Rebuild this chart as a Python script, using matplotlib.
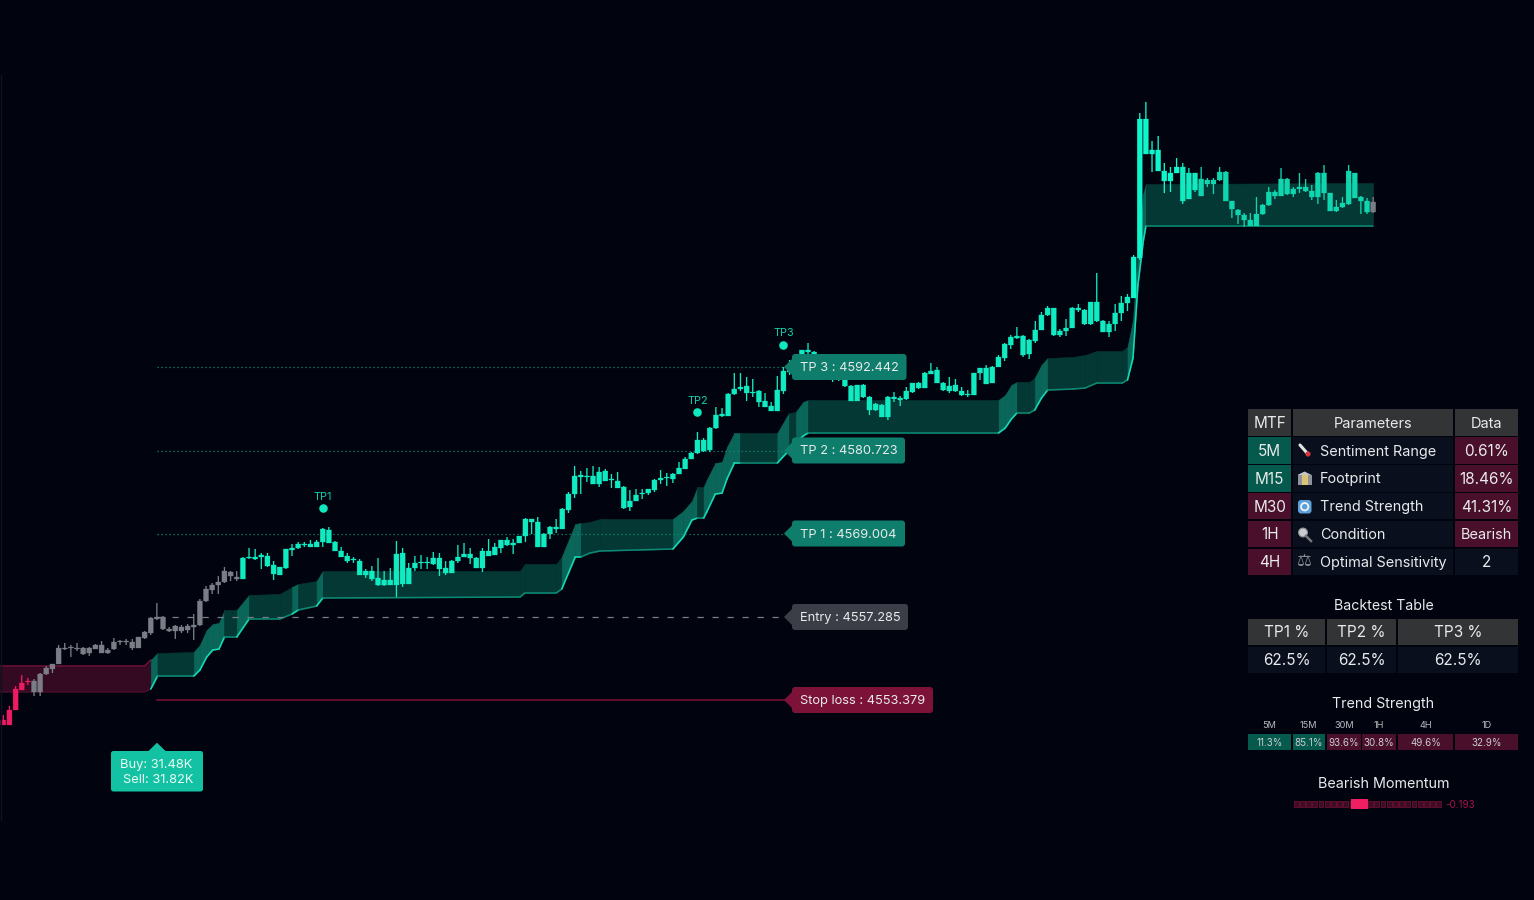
"""Recreate the trend band chart with TP levels and the signal tables."""
import matplotlib
matplotlib.use('Agg')
import matplotlib.pyplot as plt
from matplotlib.patches import Rectangle, FancyBboxPatch, Polygon, Circle

plt.rcParams['font.family'] = ['Inter', 'DejaVu Sans']

# candle series, in ticks above the chart floor
body_top = [
    180, 190, 211, 217, 219, 219, 226, 232, 236, 252,
    252, 253, 252, 252, 252, 255, 255, 250, 258, 259,
    259, 258, 263, 268, 282, 283, 283, 271, 274, 273,
    274, 275, 299, 311, 315, 318, 329, 328, 323, 342,
    343, 343, 345, 344, 335, 333, 351, 352, 356, 356,
    356, 358, 371, 370, 358, 349, 344, 341, 339, 329,
    329, 322, 320, 320, 346, 347, 332, 337, 338, 338,
    342, 342, 332, 339, 343, 346, 346, 342, 349, 349,
    353, 360, 360, 357, 364, 381, 381, 378, 366, 373,
    373, 391, 406, 424, 425, 424, 424, 428, 429, 421,
    419, 413, 399, 405, 407, 411, 420, 422, 423, 426,
    432, 441, 447, 460, 460, 472, 485, 486, 506, 511,
    513, 514, 508, 509, 499, 494, 510, 529, 535, 542,
    550, 550, 548, 544, 540, 534, 530, 522, 514, 515,
    515, 503, 496, 495, 503, 503, 502, 509, 517, 517,
    527, 529, 530, 517, 514, 515, 509, 506, 527, 532,
    532, 533, 543, 556, 563, 564, 564, 560, 570, 585,
    592, 592, 569, 572, 592, 592, 590, 598, 598, 579,
    576, 587, 597, 603, 643, 781, 781, 750, 750, 729,
    727, 733, 733, 727, 727, 721, 720, 720, 728, 728,
    699, 690, 685, 680, 686, 695, 708, 708, 721, 721,
    711, 713, 713, 709, 727, 727, 707, 693, 697, 729,
    727, 703, 699, 698,
]
body_bot = [
    175, 175, 190, 210, 218, 208, 208, 226, 231, 236,
    251, 252, 251, 246, 247, 251, 247, 247, 251, 258,
    258, 252, 252, 262, 267, 281, 271, 269, 269, 269,
    270, 273, 275, 299, 310, 315, 318, 324, 321, 321,
    342, 341, 343, 334, 326, 325, 332, 350, 352, 355,
    353, 353, 358, 357, 349, 343, 339, 340, 325, 325,
    321, 315, 315, 315, 315, 316, 316, 332, 337, 337,
    336, 331, 327, 327, 339, 343, 342, 332, 332, 344,
    345, 352, 355, 355, 357, 364, 378, 353, 353, 366,
    371, 371, 390, 406, 423, 423, 416, 416, 419, 420,
    412, 392, 393, 399, 406, 407, 410, 420, 422, 421,
    426, 431, 441, 447, 449, 450, 472, 484, 484, 506,
    511, 507, 507, 498, 493, 489, 489, 509, 528, 534,
    542, 548, 540, 536, 532, 526, 522, 514, 499, 499,
    503, 490, 490, 483, 483, 501, 500, 501, 508, 512,
    512, 526, 517, 510, 509, 509, 505, 505, 505, 527,
    516, 517, 533, 542, 555, 562, 545, 546, 559, 570,
    585, 565, 565, 569, 572, 590, 576, 576, 579, 568,
    568, 576, 587, 597, 602, 642, 746, 746, 729, 719,
    719, 727, 699, 701, 710, 704, 716, 716, 720, 699,
    691, 685, 680, 674, 674, 686, 695, 704, 704, 706,
    706, 711, 709, 703, 703, 707, 689, 689, 693, 696,
    702, 699, 688, 688,
]
wick_high = [
    185, 194, 214, 225, 222, 221, 227, 234, 236, 255,
    257, 255, 257, 253, 253, 256, 259, 252, 262, 260,
    261, 261, 263, 269, 283, 297, 284, 273, 275, 275,
    276, 286, 301, 314, 317, 324, 333, 329, 329, 343,
    352, 351, 347, 347, 339, 333, 351, 356, 358, 358,
    360, 360, 372, 373, 359, 353, 347, 343, 341, 331,
    334, 342, 329, 332, 359, 352, 337, 344, 345, 343,
    348, 347, 339, 340, 355, 357, 352, 343, 352, 361,
    357, 360, 363, 361, 364, 382, 381, 383, 367, 374,
    381, 392, 408, 434, 429, 432, 434, 433, 431, 426,
    428, 414, 410, 411, 411, 411, 421, 430, 427, 427,
    438, 443, 448, 468, 462, 473, 493, 492, 507, 527,
    527, 523, 521, 510, 507, 498, 524, 533, 540, 545,
    550, 557, 549, 546, 542, 538, 532, 524, 515, 515,
    516, 504, 497, 496, 504, 508, 504, 513, 517, 518,
    528, 537, 533, 518, 523, 521, 513, 510, 527, 532,
    535, 534, 545, 557, 565, 573, 565, 561, 579, 588,
    594, 592, 571, 581, 593, 596, 591, 598, 627, 580,
    579, 596, 604, 606, 645, 787, 798, 759, 764, 737,
    733, 742, 737, 732, 727, 733, 722, 722, 733, 729,
    699, 691, 687, 687, 703, 696, 713, 710, 732, 722,
    713, 727, 721, 715, 728, 735, 707, 700, 703, 735,
    727, 704, 702, 703,
]
wick_low = [
    175, 175, 190, 210, 215, 204, 204, 225, 227, 236,
    250, 243, 249, 245, 244, 251, 247, 246, 250, 255,
    255, 250, 252, 261, 265, 280, 270, 268, 261, 267,
    267, 260, 274, 298, 306, 306, 317, 319, 319, 321,
    341, 340, 331, 333, 320, 325, 331, 344, 351, 353,
    353, 353, 353, 357, 349, 343, 337, 337, 325, 322,
    319, 314, 314, 315, 303, 313, 316, 329, 331, 331,
    335, 324, 325, 327, 337, 343, 336, 332, 328, 344,
    345, 347, 354, 346, 357, 358, 366, 353, 353, 361,
    367, 371, 387, 402, 406, 418, 416, 413, 419, 412,
    412, 391, 389, 399, 401, 405, 408, 416, 414, 417,
    426, 431, 441, 446, 448, 448, 471, 483, 484, 505,
    509, 499, 503, 493, 493, 489, 489, 506, 525, 530,
    540, 545, 538, 534, 528, 518, 519, 513, 499, 499,
    502, 485, 489, 483, 480, 498, 494, 500, 507, 511,
    512, 526, 517, 509, 507, 508, 504, 503, 505, 520,
    516, 517, 533, 539, 551, 561, 543, 541, 557, 570,
    584, 564, 563, 564, 572, 588, 575, 575, 578, 568,
    563, 569, 579, 589, 602, 640, 746, 728, 729, 707,
    708, 727, 696, 701, 708, 704, 713, 706, 719, 699,
    682, 676, 673, 674, 674, 685, 694, 701, 704, 705,
    703, 707, 708, 700, 696, 700, 689, 688, 692, 695,
    702, 686, 686, 687,
]

# trend band
band_x = [
    24.0, 25.1, 31.0, 32.0, 33.1, 34.1, 35.1, 36.0, 38.0, 40.0,
    45.0, 47.0, 48.0, 51.0, 52.0, 84.1, 84.9, 90.0, 90.9, 93.1,
    94.0, 95.5, 97.1, 109.0, 110.7, 112.1, 113.0, 114.0, 114.5, 115.9,
    117.0, 117.8, 119.0, 119.9, 126.0, 127.5, 127.9, 129.0, 130.2, 131.0,
    162.0, 163.1, 164.1, 165.0, 167.0, 167.9, 169.0, 170.0, 174.1, 176.1,
    178.0, 182.1, 183.0, 183.9, 184.7, 185.6, 186.0, 223.0,
]
band_top = [
    240, 247, 248, 255, 270, 276, 277, 290, 290, 305,
    306, 313, 316, 319, 329, 329, 336, 336, 343, 376,
    377, 378, 381, 381, 389, 399, 413, 413, 420, 437,
    438, 453, 467, 467, 467, 483, 487, 488, 498, 500,
    500, 505, 515, 518, 518, 522, 535, 542, 543, 545,
    549, 549, 553, 580, 650, 707, 716, 717,
]
band_bot = [
    211, 224, 224, 230, 243, 250, 251, 263, 263, 281,
    281, 286, 290, 294, 302, 303, 307, 307, 311, 343,
    343, 347, 349, 351, 363, 380, 382, 382, 388, 406,
    407, 421, 437, 437, 437, 447, 450, 457, 464, 467,
    467, 472, 481, 487, 487, 490, 502, 510, 511, 512,
    517, 517, 520, 542, 615, 660, 674, 674,
]
band_rising = [
    (24.0, 25.1), (31.0, 36.0), (38.0, 40.0), (47.0, 48.0), (51.0, 52.0),
    (90.9, 94.0), (109.0, 113.0), (114.0, 119.9), (126.0, 127.9), (129.0, 131.0),
    (162.0, 165.0), (167.9, 170.0), (183.0, 186.0),
]
bear_x = [-0.6, 23.0, 24.0]
bear_top = [234, 234, 240]
bear_bot = [208, 208, 211]

# levels
level_names = ['TP 3', 'TP 2', 'TP 1', 'Entry', 'Stop loss']
level_prices = ['4592.442', '4580.723', '4569.004', '4557.285', '4553.379']
level_ticks = [533, 449.5, 366.5, 283, 200]
tp_names = ['TP1', 'TP2', 'TP3']
tp_bars = [52, 113, 127]
tp_ticks = [392, 488, 555]

# tables
mtf_labels = ['5M', 'M15', 'M30', '1H', '4H']
mtf_bull = [True, True, False, False, False]
param_names = ['Sentiment Range', 'Footprint', 'Trend Strength', 'Condition', 'Optimal Sensitivity']
data_values = ['0.61%', '18.46%', '41.31%', 'Bearish', '2']
data_bear = [True, True, True, True, False]
backtest_heads = ['TP1 %', 'TP2 %', 'TP3 %']
backtest_values = ['62.5%', '62.5%', '62.5%']
strength_frames = ['5M', '15M', '30M', '1H', '4H', '1D']
strength_values = ['11.3%', '85.1%', '93.6%', '30.8%', '49.6%', '32.9%']
strength_bull = [True, True, False, False, False, False]
momentum_value = '-0.193'
momentum_cells = 24

BG = '#01040f'
PINK = '#ee1a62'
GRAY = '#7b7d86'
TEAL = '#10ebc2'
TEAL_BRIGHT = '#0ff8cd'
TEAL_DIM = '#10d6b0'
BAND_DARK = '#043835'
BAND_LIGHT = '#0b665a'
GREEN_CELL = '#05594d'
MAROON_CELL = '#4a0f2b'
HEAD_CELL = '#333436'
DARK_CELL = '#0a0f1e'
TEXT = '#e8eaec'

fig = plt.figure(figsize=(15.34, 9.0), dpi=100, facecolor=BG)
ax = fig.add_axes([0, 0, 1, 1], facecolor=BG)
ax.set_xlim(-0.537, 249.18)
ax.set_ylim(0, 900)
ax.axis('off')

# level lines sit above the band, below the candles
for name, tick in zip(level_names, level_ticks):
    if name.startswith('TP'):
        ax.plot([25.1, 127.6], [tick, tick], color='#128a76', lw=0.9, ls=(0, (1, 2.2)), zorder=3.5)
    elif name == 'Entry':
        ax.plot([25.1, 127.6], [tick, tick], color='#7a7c84', lw=0.9, ls=(0, (5, 7)), zorder=3.5)
    else:
        ax.plot([25.1, 127.6], [tick, tick], color='#7d1238', lw=1.1, zorder=3.5)

# bearish band
ax.fill_between(bear_x, bear_bot, bear_top, color='#340a22', lw=0, zorder=2)
ax.plot(bear_x, bear_top, color='#7d1238', lw=1.0, zorder=2)
ax.plot(bear_x, bear_bot, color='#4d0f2d', lw=0.8, zorder=2)


def is_rising(x0, x1):
    mid = (x0 + x1) / 2
    return any(a <= mid <= b for a, b in band_rising)


# trend band, one piece per knot so the rising parts can be lighter
for j in range(len(band_x) - 1):
    xs = band_x[j:j + 2]
    rising = is_rising(*xs)
    col = BAND_LIGHT if rising else BAND_DARK
    ax.fill_between(xs, band_bot[j:j + 2], band_top[j:j + 2], facecolor=col, edgecolor=col, lw=0.4, zorder=2)
    ax.plot(xs, band_bot[j:j + 2], color='#14dcb6' if rising else '#0d8a75',
            lw=1.1, solid_capstyle='round', zorder=3)

# candles, unsnapped so the gaps between neighbours stay even
for i in range(len(body_top)):
    if i < 5:
        c = PINK
    elif i < 39 or i == 223:
        c = GRAY
    elif 184 <= i < 192:
        c = TEAL_BRIGHT
    elif i >= 195:
        c = TEAL_DIM
    else:
        c = TEAL
    ax.vlines(i, wick_low[i], wick_high[i], color=c, lw=0.95, zorder=4, snap=False)
    bars = ax.bar(i, body_top[i] - body_bot[i], bottom=body_bot[i], width=0.82,
                  facecolor=c, edgecolor=c, lw=0.2, zorder=5)
    bars[0].set_snap(False)

# TP markers
ax.scatter(tp_bars, tp_ticks, s=38, color='#10e8c0', lw=0, zorder=6)
for name, bar, tick in zip(tp_names, tp_bars, tp_ticks):
    ax.text(bar, tick + 11.5, name, color='#0fd0ac', fontsize=7.8, ha='center', va='center', zorder=6)

# overlay in picture units for labels and tables
ui = fig.add_axes([0, 0, 1, 1], facecolor='none')
ui.set_xlim(0, 1534)
ui.set_ylim(900, 0)
ui.axis('off')
ui.plot([0.5, 0.5], [75, 820], color='#10131f', lw=1)


def tag(y, x1, text, color, txt_color=TEXT):
    ui.add_patch(FancyBboxPatch((792, y - 13), x1 - 792, 26, boxstyle='round,pad=0,rounding_size=3',
                                fc=color, ec='none', zorder=7))
    ui.add_patch(Polygon([(784, y), (793, y - 9), (793, y + 9)], fc=color, ec='none', zorder=7))
    ui.text(799.5, y + 1, text, color=txt_color, fontsize=9.25, ha='left', va='center', zorder=8)


tag_ends = [906.5, 905, 905, 908, 933]
tag_colors = ['#0e7d6b', '#0e7d6b', '#0e7d6b', '#3b3d47', '#7d1238']
tag_rows = [367, 450.5, 533.5, 617, 700]
for name, price, y, x1, col in zip(level_names, level_prices, tag_rows, tag_ends, tag_colors):
    tag(y, x1, f'{name} : {price}', col)

# buy / sell box
ui.add_patch(FancyBboxPatch((111, 751), 92, 40.5, boxstyle='round,pad=0,rounding_size=2.5',
                            fc='#12c2a2', ec='none', zorder=7))
ui.add_patch(Polygon([(157, 742.7), (148, 751.5), (166, 751.5)], fc='#12c2a2', ec='none', zorder=7))
ui.text(156.5, 765, 'Buy: 31.48K', color='#eafaf6', fontsize=9.3, ha='center', va='center', zorder=8)
ui.text(158, 780, 'Sell: 31.82K', color='#eafaf6', fontsize=9.3, ha='center', va='center', zorder=8)


def cell(x0, x1, y0, y1, color, text='', size=11, tcolor=TEXT):
    ui.add_patch(Rectangle((x0, y0), x1 - x0, y1 - y0, fc=color, ec='none', zorder=2))
    if text:
        ui.text((x0 + x1) / 2, (y0 + y1) / 2 + 1, text, color=tcolor, fontsize=size,
                ha='center', va='center', zorder=3)


# parameter table
c_mtf = (1248.3, 1291)
c_par = (1292.7, 1453.3)
c_dat = (1455, 1518)
cell(*c_mtf, 409.3, 436, HEAD_CELL, 'MTF')
cell(*c_par, 409.3, 436, HEAD_CELL, 'Parameters', size=10.5)
cell(*c_dat, 409.3, 436, HEAD_CELL, 'Data', size=10.5)
row_edges = [(437.3, 464), (465, 491.7), (493, 519.3), (520.7, 547), (548.7, 575)]
for k, (y0, y1) in enumerate(row_edges):
    cell(*c_mtf, y0, y1, GREEN_CELL if mtf_bull[k] else MAROON_CELL, mtf_labels[k])
    cell(*c_par, y0, y1, DARK_CELL)
    ui.text(1320, (y0 + y1) / 2 + 1, param_names[k], color=TEXT, fontsize=10.4, ha='left', va='center', zorder=3)
    cell(*c_dat, y0, y1, MAROON_CELL if data_bear[k] else DARK_CELL, data_values[k],
         size=10.4 if data_values[k] == 'Bearish' else 11)

# small hand drawn icons
ui.plot([1300, 1307], [445, 453], color='#e6e6e6', lw=2.2, solid_capstyle='round', zorder=4)
ui.add_patch(Circle((1308, 454), 2.6, fc='#d8343f', ec='none', zorder=5))
ui.add_patch(Rectangle((1298, 475), 13.5, 10, fc='#8f9298', ec='none', zorder=4))
ui.add_patch(Polygon([(1297.5, 475), (1304.5, 471.5), (1311.5, 475)], fc='#c4c6ca', ec='none', zorder=4))
ui.add_patch(Rectangle((1301.5, 475), 6.5, 10, fc='#d9c27a', ec='none', zorder=5))
ui.add_patch(FancyBboxPatch((1298, 500), 13.5, 13.5, boxstyle='round,pad=0,rounding_size=3',
                            fc='#5d9fd8', ec='none', zorder=4))
ui.add_patch(Circle((1304.7, 506.7), 3.7, fc='none', ec='#eef4fa', lw=1.3, zorder=5))
ui.add_patch(Circle((1303, 532.5), 4.4, fc='#c9ccd1', ec='#8d9096', lw=0.8, zorder=4))
ui.plot([1306, 1311], [536, 541], color='#74767c', lw=1.8, zorder=4)
ui.text(1304.5, 561.5, '\u2696', color='#8d9096', fontsize=12, ha='center', va='center',
        family='DejaVu Sans', zorder=4)

# backtest table
ui.text(1383.5, 605.7, 'Backtest Table', color=TEXT, fontsize=10.2, ha='center', va='center')
back_cols = [(1248.3, 1325), (1327, 1396.3), (1398, 1518)]
for (x0, x1), head, val in zip(back_cols, backtest_heads, backtest_values):
    cell(x0, x1, 618.7, 645, HEAD_CELL, head)
    cell(x0, x1, 647, 672.7, DARK_CELL, val)

# trend strength strip
ui.text(1383.5, 703.7, 'Trend Strength', color=TEXT, fontsize=10.3, ha='center', va='center')
strip_cols = [(1248.3, 1291), (1292.7, 1325), (1327, 1360.7), (1362, 1396.3), (1398, 1453.3), (1455, 1518)]
for k, (x0, x1) in enumerate(strip_cols):
    ui.text((x0 + x1) / 2, 725.2, strength_frames[k], color='#b9bbc0', fontsize=6.6, ha='center', va='center')
    cell(x0, x1, 734, 750, GREEN_CELL if strength_bull[k] else MAROON_CELL, strength_values[k],
         size=7, tcolor='#c9cbd0')

# momentum meter
ui.text(1383.5, 783.7, 'Bearish Momentum', color=TEXT, fontsize=10.35, ha='center', va='center')
for k in range(momentum_cells):
    x0 = 1293.3 + k * 6.2
    ui.add_patch(Rectangle((x0 + 0.6, 801), 4.8, 6, fc='#3d0d26', ec='#6d0e33', lw=0.6, zorder=2))
ui.add_patch(Rectangle((1351, 799.3), 17.3, 10, fc='#f01e63', ec='none', zorder=3))
ui.text(1445.7, 804.8, momentum_value, color='#a51245', fontsize=7, ha='left', va='center')

fig.savefig('out.png', dpi=100, facecolor=BG)
